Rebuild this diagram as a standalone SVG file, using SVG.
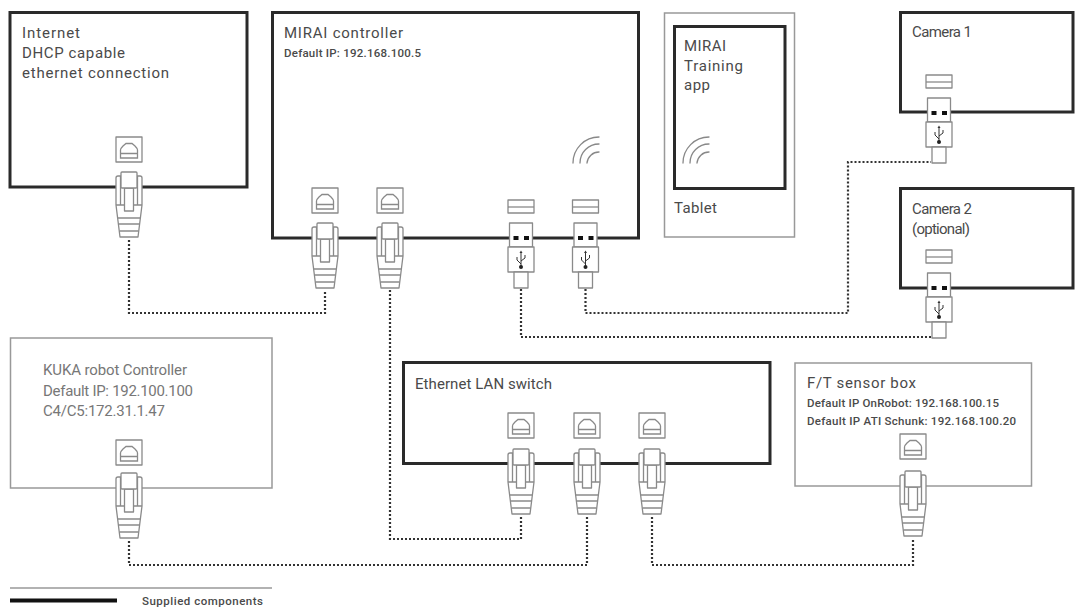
<svg xmlns="http://www.w3.org/2000/svg" width="1083" height="610" viewBox="0 0 1083 610">
<style>
text{font-family:"Roboto","Liberation Sans",sans-serif;fill:#4a4a4a}
.t{font-size:15px}
.s{font-size:11.5px;font-weight:500}
.k{font-size:15px;fill:#777}
.hard{fill:#fff;stroke:#2a2a2a;stroke-width:3}
.soft{fill:#fff;stroke:#999;stroke-width:1.5}
.p{fill:#fff;stroke:#8a8a8a;stroke-width:1.3;stroke-linejoin:round}
.n{fill:none;stroke:#8a8a8a;stroke-width:1.300}
.w{fill:none;stroke:#888;stroke-width:1.3;stroke-linecap:round}
.d{fill:none;stroke:#333;stroke-width:2.2;stroke-dasharray:2 2}
</style>
<defs>
<g id="rj"><rect class="p" x="-13" y="0" width="26" height="25"/><path class="n" d="M-8.500 21V13Q-8.500 11.500-6 9L-3 6.500H3L6 9Q8.500 11.500 8.500 13V21ZM-8.500 16.500H8.500"/></g>
<g id="plug"><path class="p" d="M-13 41Q-13 39-11 39H11Q13 39 13 41V68L9 100H-9L-13 68Z"/><path class="n" d="M-8.500 39V68M8.500 39V68M-13 68H-4.500M13 68H4.500M-11 81H11M-10.200 87H10.200M-9.500 94H9.500"/><rect class="p" x="-4.500" y="51" width="9" height="23"/><rect class="p" x="-8" y="35" width="16" height="16" rx="1"/></g>
<g id="usbs"><rect class="p" x="-13" y="0" width="26" height="13"/><path class="n" d="M-13 7H13"/></g>
<g id="usbp"><rect class="p" x="-11.500" y="23" width="23" height="24"/><rect x="-7.500" y="36" width="5" height="4" fill="#111"/><rect x="3" y="36" width="5" height="4" fill="#111"/><rect class="p" x="-13" y="47" width="26" height="25"/><rect class="p" x="-7" y="72" width="14" height="16"/><path d="M0 52V67M0 64L-4 60V57M0 61L4 58V55" fill="none" stroke="#333" stroke-width="1"/><circle cx="0" cy="67" r="2" fill="#222"/><path d="M-1.500 53L0 50.500L1.500 53Z" fill="#333"/></g>
<g id="wifi"><path class="w" d="M683 163A26 26 0 0 1 709 137M690 163A19 19 0 0 1 709 144M697 163A12 12 0 0 1 709 152"/></g>
</defs>
<rect width="1083" height="610" fill="#fff"/>

<g id="internet"><rect class="hard" x="10" y="12.500" width="237" height="174.500"/>
<text class="t" x="22" y="38" textLength="58">Internet</text><text class="t" x="22" y="58" textLength="103">DHCP capable</text><text class="t" x="22" y="78" textLength="147">ethernet connection</text>
<use href="#rj" x="129" y="137"/><use href="#plug" x="129" y="137"/></g>

<g id="mirai-controller"><rect class="hard" x="272.500" y="12.500" width="366" height="225.500"/>
<text class="t" x="284" y="38" textLength="119">MIRAI controller</text><text class="s" x="284" y="57" textLength="137">Default IP: 192.168.100.5</text>
<use href="#wifi" x="-110"/>
<use href="#rj" x="325" y="188"/><use href="#plug" x="325" y="188"/><use href="#rj" x="390" y="188"/><use href="#plug" x="390" y="188"/>
<use href="#usbs" x="521" y="200"/><use href="#usbp" x="521" y="200"/><use href="#usbs" x="585.500" y="200"/><use href="#usbp" x="585.500" y="200"/></g>

<g id="tablet"><rect class="soft" x="664.500" y="13" width="130" height="224"/><rect class="hard" x="674.500" y="26.500" width="110.500" height="162"/>
<text class="t" x="684" y="51" textLength="42">MIRAI</text><text class="t" x="684" y="71" textLength="59">Training</text><text class="t" x="684" y="90" textLength="26">app</text>
<use href="#wifi"/><text class="t" x="674" y="213" textLength="43">Tablet</text></g>

<g id="camera-1"><rect class="hard" x="900.500" y="12.500" width="172.500" height="99.500"/><text class="t" x="912" y="37" textLength="60">Camera 1</text>
<use href="#usbs" x="939" y="75"/><use href="#usbp" x="939" y="75"/></g>

<g id="camera-2"><rect class="hard" x="900.500" y="188.500" width="172.500" height="99.500"/><text class="t" x="912" y="214" textLength="60">Camera 2</text><text class="t" x="912" y="234" textLength="58">(optional)</text>
<use href="#usbs" x="939" y="250"/><use href="#usbp" x="939" y="250"/></g>

<g id="kuka-controller"><rect class="soft" x="10.500" y="338" width="261.500" height="150"/>
<text class="k" x="43" y="375" textLength="144">KUKA robot Controller</text><text class="k" x="43" y="396" textLength="150">Default IP: 192.100.100</text><text class="k" x="43" y="416" textLength="122">C4/C5:172.31.1.47</text>
<use href="#rj" x="129" y="440"/><use href="#plug" x="129" y="438"/></g>

<g id="lan-switch"><rect class="hard" x="403.500" y="362.500" width="366.500" height="101"/><text class="t" x="415" y="389" textLength="137">Ethernet LAN switch</text>
<use href="#rj" x="521" y="413"/><use href="#plug" x="521" y="414"/><use href="#rj" x="587" y="413"/><use href="#plug" x="587" y="414"/><use href="#rj" x="652" y="413"/><use href="#plug" x="652" y="414"/></g>

<g id="ft-sensor-box"><rect class="soft" x="795" y="363" width="236.500" height="123"/>
<text class="t" x="807" y="388" textLength="109">F/T sensor box</text><text class="s" x="807" y="407" textLength="192">Default IP OnRobot: 192.168.100.15</text><text class="s" x="807" y="425" textLength="209">Default IP ATI Schunk: 192.168.100.20</text>
<use href="#rj" x="913" y="434"/><use href="#plug" x="913" y="436"/></g>

<g id="connectors">
<path class="d" d="M129 240V313H325V290"/>
<path class="d" d="M390 290V539H521V517"/>
<path class="d" d="M129 541V565H587V517"/>
<path class="d" d="M652 517V565H913V538"/>
<path class="d" d="M585.500 289V313H848V162H931"/>
<path class="d" d="M521 289V337H931"/>
</g>

<g id="legend"><path d="M10 588H272" stroke="#999" stroke-width="1.500"/><path d="M10 600.500H117" stroke="#111" stroke-width="4"/><text class="s" x="142" y="605" textLength="121">Supplied components</text></g>
</svg>
